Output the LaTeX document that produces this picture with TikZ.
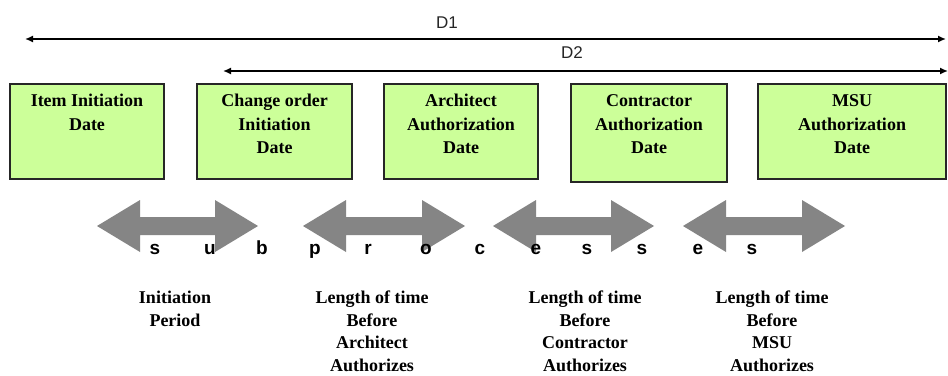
\documentclass[tikz,border=0pt]{standalone}
\usepackage{fontspec}
\setmainfont{Liberation Serif}
\setsansfont{Liberation Sans}
\usetikzlibrary{arrows.meta}
\definecolor{boxgreen}{HTML}{CCFF99}
\definecolor{arrowgray}{HTML}{858585}
\newcommand\blockdblarrow[2]{%
  \fill[arrowgray] (#1,226) -- ({#1+43},200) -- ({#1+43},217) -- ({#2-43},217) -- ({#2-43},200) -- (#2,226)
    -- ({#2-43},252) -- ({#2-43},235) -- ({#1+43},235) -- ({#1+43},252) -- cycle;}
\begin{document}
\begin{tikzpicture}[x=1pt,y=-1pt,
  datebox/.style={draw=black!85, line width=1.3pt, fill=boxgreen, inner sep=0pt, rectangle, minimum height=95pt},
  boxtext/.style={font=\fontsize{18}{23.5}\selectfont\bfseries, align=center, inner sep=0pt, anchor=north},
  periodtext/.style={font=\fontsize{18}{22.4}\selectfont\bfseries, align=center, inner sep=0pt, anchor=north},
  dimline/.style={draw=black, line width=1.5pt, arrows={Latex[length=8pt,width=7pt]-Latex[length=8pt,width=7pt]}},
  dimlabel/.style={font=\sffamily\fontsize{17}{19}\selectfont, anchor=base, inner sep=0pt, text=black!85},
  letter/.style={font=\sffamily\bfseries\fontsize{19}{22}\selectfont, anchor=base, inner sep=0pt}
]
\useasboundingbox[fill=white] (0,0) rectangle (948,375);

% dimension lines
\coordinate (d1l) at (25,39);
\coordinate (d1r) at (946,39);
\coordinate (d2l) at (223,71);
\coordinate (d2r) at (948,71);
\draw[dimline] (d1l) -- (d1r);
\draw[dimline] (d2l) -- (d2r);
\node[dimlabel] (D1) at (447,28) {D1};
\node[dimlabel] (D2) at (572,58) {D2};

% date boxes
\node[datebox, minimum width=154pt] (b1) at (87,131.5) {};
\node[datebox, minimum width=155pt] (b2) at (274.5,131.5) {};
\node[datebox, minimum width=154pt] (b3) at (461,131.5) {};
\node[datebox, minimum width=156pt, minimum height=98pt] (b4) at (649,133) {};
\node[datebox, minimum width=188pt] (b5) at (852,131.5) {};

\node[boxtext] (t1) at (87,90) {\strut Item Initiation\\Date};
\node[boxtext] (t2) at (274.5,90) {\strut Change order\\Initiation\\Date};
\node[boxtext] (t3) at (461,90) {\strut Architect\\Authorization\\Date};
\node[boxtext] (t4) at (649,90) {\strut Contractor\\Authorization\\Date};
\node[boxtext] (t5) at (852,90) {\strut MSU\\Authorization\\Date};

% gray double arrows
\blockdblarrow{97}{258}
\blockdblarrow{303}{465}
\blockdblarrow{493}{654}
\blockdblarrow{683}{845}

% letters
\node[letter] (l1) at (155,254) {s};
\node[letter] (l2) at (210,254) {u};
\node[letter] (l3) at (262,254) {b};
\node[letter] (l4) at (315,254) {p};
\node[letter] (l5) at (368,254) {r};
\node[letter] (l6) at (426,254) {o};
\node[letter] (l7) at (480,254) {c};
\node[letter] (l8) at (536,254) {e};
\node[letter] (l9) at (587,254) {s};
\node[letter] (l10) at (642,254) {s};
\node[letter] (l11) at (698,254) {e};
\node[letter] (l12) at (752,254) {s};

% period labels
\node[periodtext] (p1) at (175,288) {\strut Initiation\\Period};
\node[periodtext] (p2) at (372,288) {\strut Length of time\\Before\\Architect\\Authorizes};
\node[periodtext] (p3) at (585,288) {\strut Length of time\\Before\\Contractor\\Authorizes};
\node[periodtext] (p4) at (772,288) {\strut Length of time\\Before\\MSU\\Authorizes};
\end{tikzpicture}
\end{document}
